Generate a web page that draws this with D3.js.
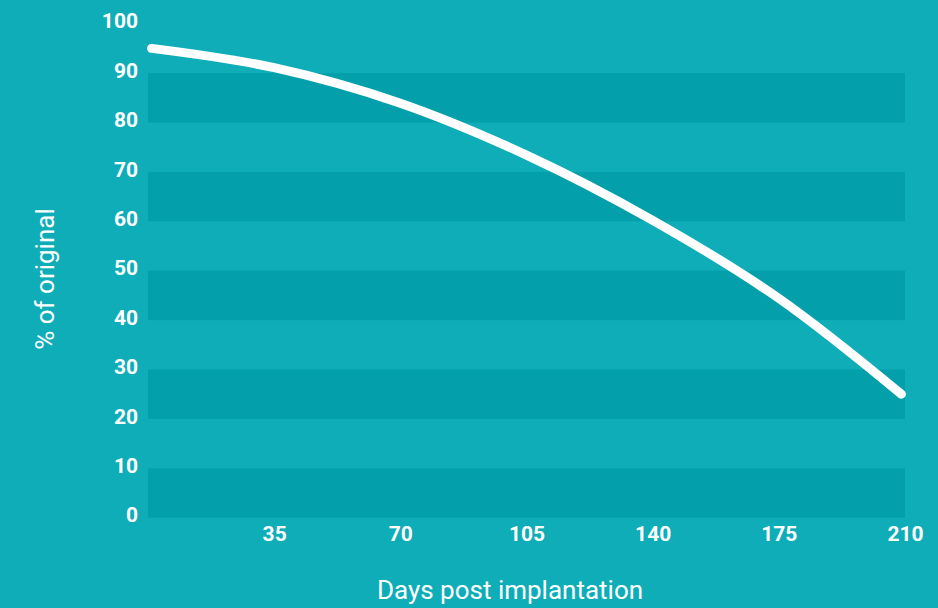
<!DOCTYPE html>
<html lang="en">
<head>
<meta charset="utf-8">
<title>% of original</title>
<style type="text/css">
body {
  margin: 0;
  background: #0eadb8;
}
.axis text {
  font: bold 21px Roboto, sans-serif;
  fill: #fff;
}
.axis path, .axis line {
  display: none;
}
.title {
  font: 26px Roboto, sans-serif;
  fill: #fff;
}
path.curve {
  fill: none;
  stroke: #fff;
  stroke-width: 9px;
  stroke-linecap: round;
}
</style>
</head>
<body>
<svg width="938" height="608"></svg>
<script src="https://d3js.org/d3.v7.min.js"></script>
<script>
// data
var days = [1, 35, 70, 105, 140, 175, 209];
var pctOriginal = [95.0, 91.1, 83.9, 73.4, 60.2, 44.4, 25.0];
var xTicks = [35, 70, 105, 140, 175, 210];
var yTicks = [0, 10, 20, 30, 40, 50, 60, 70, 80, 90, 100];
var bands = [[0, 10], [20, 30], [40, 50], [60, 70], [80, 90]];

var svg = d3.select("svg"),
    width = +svg.attr("width"),
    height = +svg.attr("height"),
    bg = "#0eadb8",
    bandColor = "#03a0ab";

var x = d3.scaleLinear().domain([0, 210]).range([148, 905]),
    y = d3.scaleLinear().domain([0, 100]).range([517.7, 23.7]);

svg.append("rect")
    .attr("width", width)
    .attr("height", height)
    .attr("fill", bg);

// darker stripes every other 10 %
svg.append("g").selectAll("rect")
    .data(bands)
    .enter().append("rect")
      .attr("x", x(0))
      .attr("width", x(210) - x(0))
      .attr("y", function(d) { return y(d[1]); })
      .attr("height", function(d) { return y(d[0]) - y(d[1]); })
      .attr("fill", bandColor);

var yAxis = svg.append("g")
    .attr("class", "axis")
    .attr("transform", "translate(" + x(0) + ",0)")
    .call(d3.axisLeft(y).tickValues(yTicks).tickSize(0).tickPadding(10));
yAxis.selectAll("text").attr("dy", "0.2em");

var xAxis = svg.append("g")
    .attr("class", "axis")
    .attr("transform", "translate(0," + y(0) + ")")
    .call(d3.axisBottom(x).tickValues(xTicks).tickSize(0).tickPadding(8));

var points = days.map(function(d, i) { return [d, pctOriginal[i]]; });

var line = d3.line()
    .x(function(d) { return x(d[0]); })
    .y(function(d) { return y(d[1]); })
    .curve(d3.curveCatmullRom.alpha(0.5));

svg.append("path")
    .datum(points)
    .attr("class", "curve")
    .attr("d", line);

svg.append("text")
    .attr("class", "title")
    .attr("text-anchor", "middle")
    .attr("x", 510)
    .attr("y", 599)
    .text("Days post implantation");

svg.append("text")
    .attr("class", "title")
    .attr("text-anchor", "middle")
    .attr("transform", "translate(54,279) rotate(-90)")
    .text("% of original");
</script>
</body>
</html>
